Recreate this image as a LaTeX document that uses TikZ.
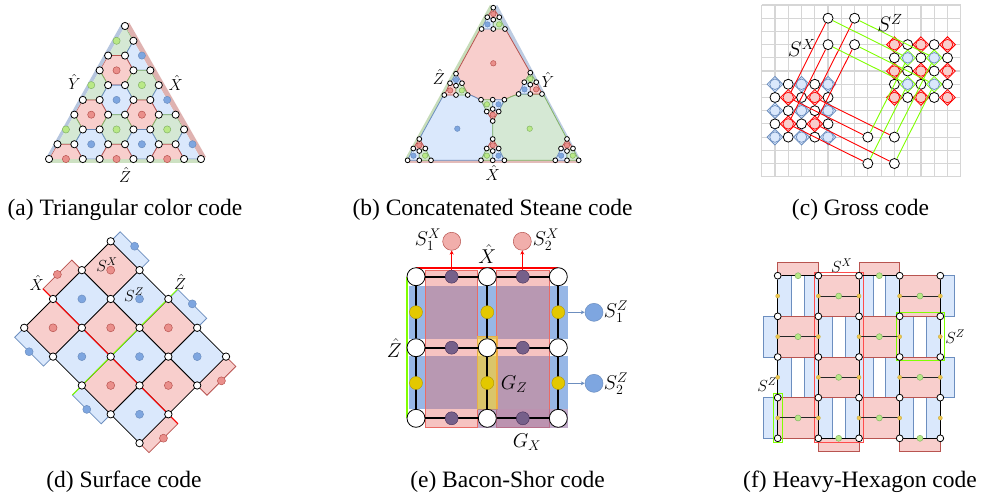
\documentclass[tikz,border=0pt]{standalone}
\usepackage{fix-cm}
\usepackage[no-math]{fontspec}
\setmainfont{Liberation Serif}
\usepackage{xcolor}
\usepackage{tikz}
\usetikzlibrary{positioning,calc,arrows.meta,shapes.geometric}
\definecolor{redfill}{HTML}{F8CECC}
\definecolor{rededge}{HTML}{B85450}
\definecolor{reddotc}{HTML}{EA8F8B}
\definecolor{redmix}{HTML}{EA6B66}
\definecolor{bluefill}{HTML}{DAE8FC}
\definecolor{blueedge}{HTML}{6C8EBF}
\definecolor{bluedotc}{HTML}{7EA6E0}
\definecolor{greenfill}{HTML}{D5E8D4}
\definecolor{greenedge}{HTML}{82B366}
\definecolor{greendotc}{HTML}{B9E986}
\definecolor{limeline}{HTML}{80FF00}
\definecolor{gridc}{HTML}{D6D6D6}
\definecolor{goldfill}{HTML}{E3C800}
\definecolor{goldedge}{HTML}{B09500}
\definecolor{purpfill}{HTML}{76608A}
\definecolor{purpedge}{HTML}{432D57}
\definecolor{gxfill}{HTML}{9673A6}
\definecolor{gzfill}{HTML}{FFCD28}
\definecolor{gzedge}{HTML}{E8B04A}
\begin{document}
\begin{tikzpicture}[
      x=1pt, y=-1pt,
      vtx/.style={circle, draw=black, fill=white, inner sep=0pt, line width=.8pt, minimum size=#1},
      redface/.style={fill=redfill, draw=rededge, line width=.8pt},
      blueface/.style={fill=bluefill, draw=blueedge, line width=.8pt},
      greenface/.style={fill=greenfill, draw=greenedge, line width=.8pt},
      reddot/.style={circle, fill=reddotc, draw=rededge, inner sep=0pt, line width=.5pt, minimum size=#1},
      bluedot/.style={circle, fill=bluedotc, draw=blueedge, inner sep=0pt, line width=.5pt, minimum size=#1},
      greendot/.style={circle, fill=greendotc, draw=greenedge, inner sep=0pt, line width=.5pt, minimum size=#1},
      lbl/.style={inner sep=0pt, font=\fontsize{#1}{#1}\selectfont},
      capt/.style={inner sep=0pt, font=\fontsize{23.5}{24}\selectfont},
      sxline/.style={draw=red, line width=.9pt},
      szline/.style={draw=limeline, line width=.9pt},
      xdia/.style={diamond, draw=red, fill=redfill, inner sep=0pt, minimum size=16pt, line width=.8pt},
      zdia/.style={diamond, draw=blueedge, fill=bluefill, inner sep=0pt, minimum size=16pt, line width=.8pt},
      ydia/.style={diamond, draw=limeline, fill=bluefill, inner sep=0pt, minimum size=16pt, line width=.8pt},
      xring/.style={circle, draw=red, fill=redfill, inner sep=0pt, minimum size=10.5pt, line width=.7pt},
      zring/.style={circle, draw=blueedge, fill=bluefill, inner sep=0pt, minimum size=10.5pt, line width=.7pt}
    ]
      \path[use as bounding box, fill=white] (0,0) rectangle (986,499);

      % Triangular color code
      \fill[blueedge!50] (121.7,23.3) -- (125,26) -- (49,159) -- (46,158) -- cycle;
      \fill[rededge!45] (129.3,22.7) -- (125,26) -- (201,159) -- (206,157) -- cycle;
      \fill[greenedge!40] (47,159) rectangle (203,163);
      \begin{scope}[shift={(125,26)}, x={(8.44pt,0pt)}, y={(0pt,-14.78pt)}]
        \begin{scope}
          \clip (0,0) -- (-9,9) -- (9,9) -- cycle;
          \foreach \cx/\cy/\col in {-1/1/green,2/2/blue,-1/3/red,-4/4/green,2/4/green,-1/5/blue,5/5/blue,-4/6/red,2/6/red,-7/7/green,-1/7/green,5/7/green,-4/8/blue,2/8/blue,8/8/blue,-7/9/red,-1/9/red,5/9/red}
            \draw[\col face] (\cx+2,\cy) -- (\cx+1,\cy+1) -- (\cx-1,\cy+1) -- (\cx-2,\cy) -- (\cx-1,\cy-1) -- (\cx+1,\cy-1) -- cycle;
        \end{scope}
        \foreach \cx/\cy/\col in {-1/1/green,2/2/blue,-1/3/red,-4/4/green,2/4/green,-1/5/blue,5/5/blue,-4/6/red,2/6/red,-7/7/green,-1/7/green,5/7/green,-4/8/blue,2/8/blue,8/8/blue,-7/9/red,-1/9/red,5/9/red}
          \node[\col dot=7.2pt] (a-c-\cx-\cy) at (\cx,\cy) {};
        \foreach \r in {0,...,9} {
          \foreach \j in {0,...,\r} {
            \pgfmathtruncatemacro\rest{mod(\r+\j,3)}
            \pgfmathtruncatemacro\xcoord{2*\j-\r}
            \ifnum\rest=1\relax\else
              \node[vtx=7.2pt] (a-\r-\j) at (\xcoord,\r) {};
            \fi
          }
        }
      \end{scope}
      \node[lbl=16] (ay) at (74.3,81.7) {$\hat{Y}$};
      \node[lbl=16] (ax) at (175.7,82.7) {$\hat{X}$};
      \node[lbl=16] (az) at (125,175) {$\hat{Z}$};
      \node[capt] (capa) at (125,209.5) {(a) Triangular color code};

      % Concatenated Steane code
      \fill[greenedge!45] (490,5) -- (493.3,7.7) -- (408.3,160.3) -- (405,159) -- cycle;
      \fill[blueedge!45] (497.3,5) -- (493.3,7.7) -- (578,160.3) -- (580.7,160) -- cycle;
      \fill[rededge!40] (406.7,160.3) rectangle (578,163.3);
      \draw[redface] (480.7,28.3) -- (505,28.3) -- (530.3,72.7) -- (518.3,94.3) .. controls (512,96) and (508,98) .. (504.7,100)
        -- (480.7,100) .. controls (477,98) and (473,96) .. (468.3,94.3) -- (456,73.7) -- cycle;
      \draw[blueface] (444,94.3) -- (468.3,94.3) .. controls (473,96) and (477,98) .. (480.7,100) -- (492.7,121) -- (492.7,139)
        -- (480.7,160.3) -- (431,160.3) -- (419.3,139) -- cycle;
      \draw[greenface] (518.3,94.3) .. controls (512,96) and (508,98) .. (504.7,100) -- (492.7,121) -- (492.7,139)
        -- (504.3,160.3) -- (555.7,160.3) -- (567,139) -- (543.3,94.3) -- cycle;
      \node[reddot=5.5pt] (bigx) at (493.3,63.3) {};
      \node[bluedot=5.5pt] (bigz) at (457.3,128.7) {};
      \node[greendot=5.5pt] (bigy) at (529.7,128.7) {};
      \foreach \px/\py/\sgn/\ca/\cb/\cc [count=\k] in {493.3/7.7/1/red/blue/green, 456/73.7/1/blue/red/green, 530.3/72.7/1/green/blue/red,
          492.7/121/-1/red/green/blue, 419.3/139/1/red/blue/green, 492.7/139/1/red/green/blue, 567/139/1/red/blue/green} {
        \begin{scope}[shift={(\px,\py)}, yscale=\sgn]
          \draw[\ca face] (0,0) -- (6,9.5) -- (0,12) -- (-6,9.5) -- cycle;
          \draw[\cb face] (-6,9.5) -- (0,12) -- (0,21.3) -- (-11.7,21.3) -- cycle;
          \draw[\cc face] (6,9.5) -- (0,12) -- (0,21.3) -- (11.7,21.3) -- cycle;
          \node[\ca dot=5.4pt] (s\k-a) at (0,6.3) {};
          \node[\cb dot=5.4pt] (s\k-b) at (-5.8,16.7) {};
          \node[\cc dot=5.4pt] (s\k-c) at (5.8,16.7) {};
          \foreach \vx/\vy/\vn in {0/0/t,-6/9.5/l,6/9.5/r,0/12/m,-11.7/21.3/p,0/21.3/q,11.7/21.3/w}
            \node[vtx=4.8pt] (s\k-\vn) at (\vx,\vy) {};
        \end{scope}
      }
      \node[lbl=16] (bz) at (438.7,77) {$\hat{Z}$};
      \node[lbl=16] (by) at (548,80) {$\hat{Y}$};
      \node[lbl=16] (bx) at (492.7,173) {$\hat{X}$};
      \node[capt] (capb) at (492.5,209.5) {(b) Concatenated Steane code};

      % Gross code
      \begin{scope}[shift={(761.7,5)}, x=13.27pt, y=-13.21pt]
        \foreach \gx in {0,...,15}
          \draw[gridc, line width=1.2pt] (\gx,0) -- (\gx,13);
        \foreach \gy in {0,...,13}
          \draw[gridc, line width=1.2pt] (0,\gy) -- (15,\gy);
        \foreach \gx/\gy in {5/1,7/1,5/3,7/3,8/10,10/10,8/12,10/12}
          \node[vtx=10pt] (g-\gx-\gy) at (\gx,\gy) {};
        % left block
        \foreach \gx in {1,...,5} {
          \foreach \gy in {6,...,10} {
            \pgfmathtruncatemacro\sumxy{\gx+\gy}
            \ifodd\sumxy
              \ifodd\gy
                \node[xdia] (g-\gx-\gy) at (\gx,\gy) {};
                \node[xring] (r-\gx-\gy) at (\gx,\gy) {};
              \else
                \node[zdia] (g-\gx-\gy) at (\gx,\gy) {};
                \node[zring] (r-\gx-\gy) at (\gx,\gy) {};
              \fi
            \else
              \node[vtx=10pt] (g-\gx-\gy) at (\gx,\gy) {};
            \fi
          }
        }
        % right block
        \foreach \gx in {10,...,14} {
          \foreach \gy in {3,...,7} {
            \pgfmathtruncatemacro\sumxy{\gx+\gy}
            \ifodd\sumxy
              \ifodd\gy
                \node[xdia] (g-\gx-\gy) at (\gx,\gy) {};
                \node[xring] (r-\gx-\gy) at (\gx,\gy) {};
              \else
                \node[ydia] (g-\gx-\gy) at (\gx,\gy) {};
                \node[zring] (r-\gx-\gy) at (\gx,\gy) {};
              \fi
            \else
              \node[vtx=10pt] (g-\gx-\gy) at (\gx,\gy) {};
            \fi
          }
        }
        \foreach \a/\b in {5-1/2-7,7-1/4-7,5-3/2-9,7-3/4-9,8-10/2-7,10-10/4-7,8-12/2-9,10-12/4-9}
          \draw[sxline] (g-\a) -- (g-\b);
        \foreach \a/\b in {5-1/11-4,7-1/13-4,5-3/11-6,7-3/13-6,8-10/11-4,10-10/13-4,8-12/11-6,10-12/13-6}
          \draw[szline] (g-\a) -- (g-\b);
      \end{scope}
      \node[lbl=21] (csz) at (890,23) {$S^Z$};
      \node[lbl=21] (csx) at (801.7,48) {$S^X$};
      \node[capt] (capc) at (860.5,209.5) {(c) Gross code};

      % Surface code
      \begin{scope}[shift={(110.7,241.3)}, x=28.83pt, y=-28.83pt]
        \foreach \ax/\ay/\bx/\by/\ex/\ey/\col in {0/0/1/1/.33/-.33/blue,-1/1/-2/2/-.35/-.35/red,2/2/3/3/.33/-.33/blue,-3/3/-2/4/-.33/.33/blue,4/4/3/5/.34/.34/red,-1/5/0/6/-.33/.33/blue,2/6/1/7/.33/.33/red} {
          \draw[\col face] (\ax,\ay) -- (\ax+\ex,\ay+\ey) -- (\bx+\ex,\by+\ey) -- (\bx,\by) -- cycle;
          \node[\col dot=8pt] (d-b-\ax-\ay) at ({(\ax+\bx)/2+\ex},{(\ay+\by)/2+\ey}) {};
        }
        \foreach \cx/\cy/\col in {0/1/red,-1/2/blue,1/2/blue,-2/3/red,0/3/red,2/3/red,-1/4/blue,1/4/blue,3/4/blue,0/5/red,2/5/red,1/6/blue} {
          \draw[\col face, draw=black] (\cx,\cy-1) -- (\cx+1,\cy) -- (\cx,\cy+1) -- (\cx-1,\cy) -- cycle;
          \node[\col dot=8pt] (d-c-\cx-\cy) at (\cx,\cy) {};
        }
        \draw[red, line width=1pt] (-2.35,1.65) -- (2.33,6.33);
        \draw[limeline, line width=1pt] (2.32,1.66) -- (-1.33,5.33);
        \foreach \vx/\vy in {0/0,-1/1,1/1,-2/2,0/2,2/2,-3/3,-1/3,1/3,3/3,-2/4,0/4,2/4,4/4,-1/5,1/5,3/5,0/6,2/6,1/7}
          \node[vtx=7.4pt] (d-\vx-\vy) at (\vx,\vy) {};
      \end{scope}
      \node[lbl=16] (dx) at (36.7,283) {$\hat{X}$};
      \node[lbl=16] (dz) at (180,282) {$\hat{Z}$};
      \node[lbl=16] (dsx) at (107,265) {$S^X$};
      \node[lbl=16] (dsz) at (134,295) {$S^Z$};
      \node[capt] (capd) at (124,482) {(d) Surface code};

      % Bacon-Shor code
      \fill[bluedotc, opacity=.8] (409,285.7) rectangle (567.7,339);
      \fill[bluedotc, opacity=.8] (409,356) rectangle (567.7,409.3);
      \draw[draw=redmix, fill=redmix, fill opacity=.4, line width=.8pt] (425,270) rectangle (477.7,427.7);
      \draw[draw=redmix, fill=redmix, fill opacity=.4, line width=.8pt] (496,270) rectangle (549.3,427.7);
      \draw[draw=gzedge, fill=gzfill, fill opacity=.65, line width=.8pt] (477.7,336.7) rectangle (497.3,409.3);
      \fill[gxfill, opacity=.6] (477.7,409.3) rectangle (567.7,427.7);
      \draw[red, line width=1.6pt] (416,267.7) -- (558.3,267.7);
      \draw[limeline, line width=2.2pt] (406.8,276.7) -- (406.8,418.3);
      \foreach \i/\xcoord in {1/416,2/487.3,3/558.3}
        \foreach \j/\ycoord in {1/276.7,2/347.7,3/418.3}
          \node[vtx=18pt] (e-\i-\j) at (\xcoord,\ycoord) {};
      \foreach \i in {1,2,3}
        \foreach \j/\n in {1/2,2/3} {
          \draw[black, line width=1.8pt] (e-\i-\j) -- (e-\i-\n);
          \draw[black, line width=1.8pt] (e-\j-\i) -- (e-\n-\i);
          \node[circle, draw=goldedge, fill=goldfill, inner sep=0pt, minimum size=13pt] (ey-\i-\j) at ($(e-\i-\j)!.5!(e-\i-\n)$) {};
          \node[circle, draw=purpedge, fill=purpfill, inner sep=0pt, minimum size=13pt] (ep-\j-\i) at ($(e-\j-\i)!.5!(e-\n-\i)$) {};
        }
      \node[reddot=18pt, fill=redfill!50!reddotc] (sx1) at (451.7,241.3) {};
      \node[reddot=18pt, fill=redfill!50!reddotc] (sx2) at (522.3,241.3) {};
      \node[bluedot=18pt] (sz1) at (594,312.3) {};
      \node[bluedot=18pt] (sz2) at (594,383.3) {};
      \coordinate (sx1-foot) at (451.7,270);
      \coordinate (sx2-foot) at (522.3,270);
      \coordinate (sz1-foot) at (567.7,312.3);
      \coordinate (sz2-foot) at (567.7,383.3);
      \draw[-{Stealth[length=4pt,width=4pt]}, red, line width=.7pt] (sx1-foot) -- (sx1);
      \draw[-{Stealth[length=4pt,width=4pt]}, red, line width=.7pt] (sx2-foot) -- (sx2);
      \draw[-{Stealth[length=4pt,width=4pt]}, blueedge, line width=.7pt] (sz1-foot) -- (sz1);
      \draw[-{Stealth[length=4pt,width=4pt]}, blueedge, line width=.7pt] (sz2-foot) -- (sz2);
      \node[lbl=20] (lsx1) at (428,240) {$S_1^X$};
      \node[lbl=20] (lsx2) at (546,240) {$S_2^X$};
      \node[lbl=20] (lsz1) at (616,312) {$S_1^Z$};
      \node[lbl=20] (lsz2) at (616,384) {$S_2^Z$};
      \node[lbl=20] (ex) at (487.3,254) {$\hat{X}$};
      \node[lbl=20] (ez) at (394.3,348) {$\hat{Z}$};
      \node[lbl=20] (egz) at (514,384) {$G_Z$};
      \node[lbl=20] (egx) at (527,442) {$G_X$};
      \node[capt] (cape) at (507.5,482) {(e) Bacon-Shor code};

      % Heavy-Hexagon code
      \begin{scope}[shift={(777.7,275.7)}, x=40.65pt, y=-40.65pt]
        \foreach \c/\r in {0/0,2/0,1/1,3/1,0/2,2/2,1/3,3/3} {
          \draw[blueface] (\c,\r) rectangle (\c+.344,\r+1);
          \draw[blueface] (\c+.656,\r) rectangle (\c+1,\r+1);
        }
        \foreach \c/\r in {-.344/1,-.344/3,4/0,4/2}
          \draw[blueface] (\c,\r) rectangle (\c+.344,\r+1);
        \foreach \c/\r in {1/0,3/0,0/1,2/1,1/2,3/2,0/3,2/3}
          \draw[redface] (\c,\r) rectangle (\c+1,\r+1);
        \foreach \c/\r in {0/-.328,2/-.328,1/4,3/4}
          \draw[redface] (\c,\r) rectangle (\c+1,\r+.328);
        % outlined stabilizers
        \draw[red!70!white, line width=1pt] (.902,-.09) rectangle (2.115,4.098);
        \draw[limeline, line width=1pt] (2.918,.902) rectangle (4.098,2.082);
        \draw[limeline, line width=1pt] (-.107,2.893) rectangle (.115,4.098);
        \foreach \i in {0,...,4}
          \foreach \j in {0,...,4}
            \node[vtx=6.8pt] (f-\i-\j) at (\i,\j) {};
        \foreach \i in {0,...,4}
          \foreach \j/\n in {0/1,1/2,2/3,3/4}
            \draw[black, line width=1pt] (f-\i-\j) -- (f-\i-\n);
        \foreach \c/\n/\r in {0/1/0,2/3/0,1/2/4,3/4/4}
          \draw[black, line width=1pt] (f-\c-\r) -- (f-\n-\r);
        \foreach \c/\r in {1/0,3/0,0/1,2/1,1/2,3/2,0/3,2/3}
          \draw[black!85, line width=1pt] (\c,\r+.5) -- (\c+1,\r+.5);
        \foreach \i in {0,...,4}
          \foreach \r in {0,...,3}
            \node[circle, draw=goldedge!70, fill=goldfill!60!orange!70, inner sep=0pt, minimum size=4pt, line width=.5pt] (fy-\i-\r) at (\i,\r+.5) {};
        \foreach \c/\r in {1/0,3/0,0/1,2/1,1/2,3/2,0/3,2/3}
          \node[greendot=6pt] (fg-\c-\r) at (\c+.5,\r+.5) {};
        \foreach \c/\r in {0/0,2/0,1/4,3/4}
          \node[greendot=6pt] (fb-\c-\r) at (\c+.5,\r) {};
      \end{scope}
      \node[lbl=16] (fsx) at (841.7,266) {$S^X$};
      \node[lbl=16] (fsz) at (955,336.7) {$S^Z$};
      \node[lbl=16] (fsz2) at (767,384.7) {$S^Z$};
      \node[capt] (capf) at (860,482) {(f) Heavy-Hexagon code};
    \end{tikzpicture}
\end{document}
